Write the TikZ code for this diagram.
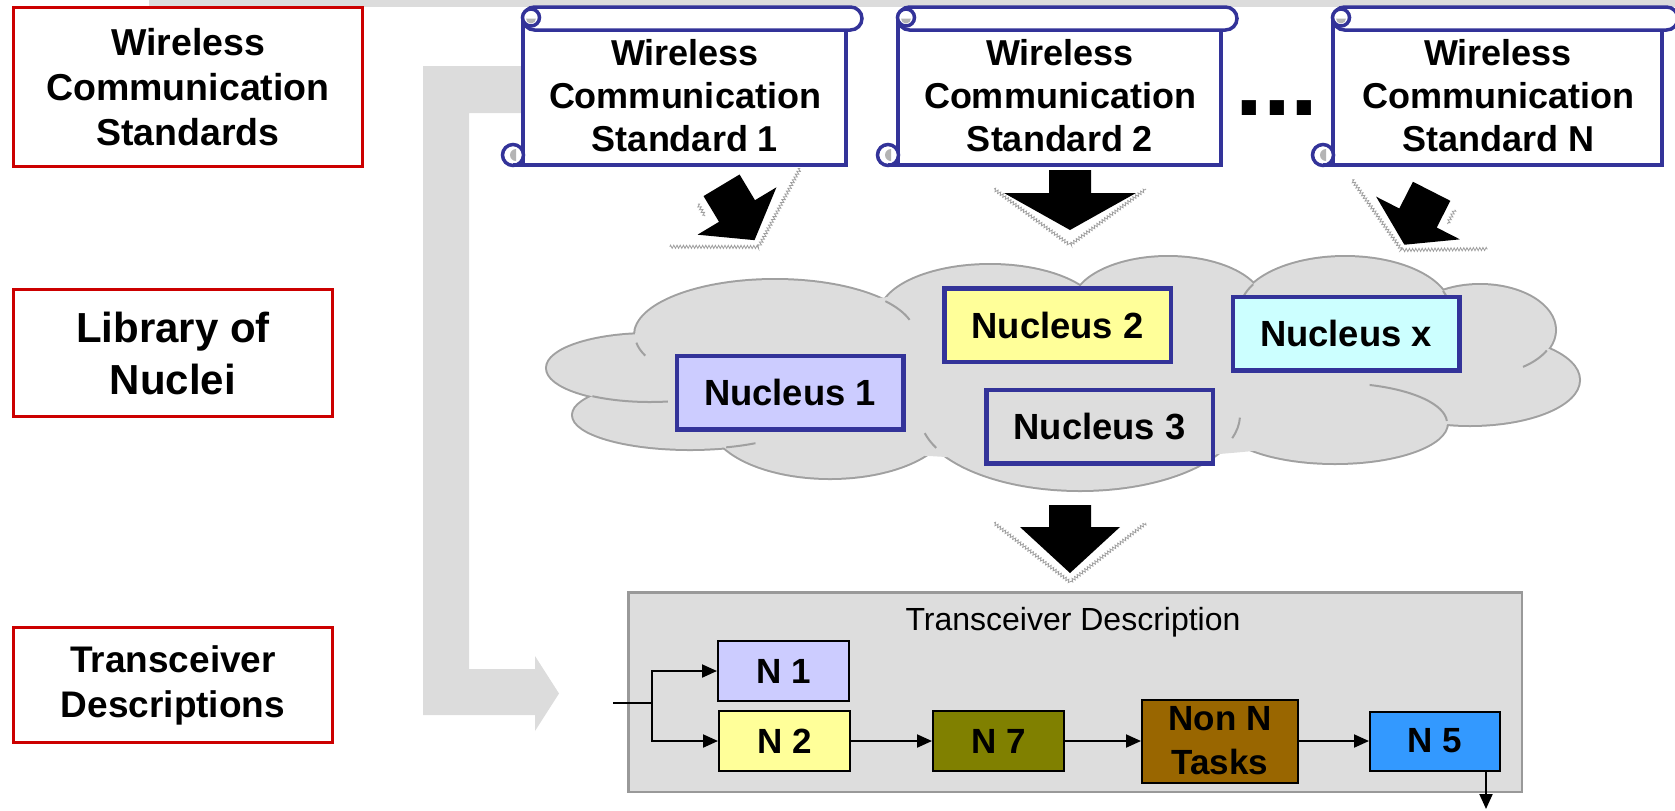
\documentclass[tikz,border=0pt]{standalone}
\usepackage{fontspec}
\setmainfont{Liberation Sans}
\usetikzlibrary{arrows.meta,decorations.pathmorphing}

\definecolor{redline}{HTML}{CC0000}
\definecolor{navy}{HTML}{333399}
\definecolor{bargray}{HTML}{DCDCDC}
\definecolor{cloudfill}{HTML}{DDDDDD}
\definecolor{cloudline}{HTML}{A0A0A0}
\definecolor{frameline}{HTML}{999999}
\definecolor{curlgray}{HTML}{B4B4B4}
\definecolor{nlav}{HTML}{CCCCFF}
\definecolor{nyel}{HTML}{FFFF99}
\definecolor{ncyan}{HTML}{CCFFFF}
\definecolor{nolive}{HTML}{808000}
\definecolor{nbrown}{HTML}{996600}
\definecolor{nblue}{HTML}{3399FF}

% scroll outline: #1 = left edge of the body, #2 = body width
\newcommand{\scrollframe}[2]{%
  \begin{scope}[shift={(#1,0)}]
    \filldraw[scrollstroke] (0,22) rectangle (#2,165);
    \filldraw[scrollstroke, rounded corners=5.75pt] (0,7) rectangle ({#2+16},30);
    \filldraw[scrollstroke] (8,17.5) circle[radius=8.5];
    \fill[curlgray] (3,18.5) arc[start angle=180, end angle=0, radius=5] -- cycle;
    \filldraw[scrollstroke] (-10,155) circle[radius=10.5];
    \fill[curlgray] (-7,149) arc[start angle=270, end angle=90, radius=6] -- cycle;
    \draw[scrollstroke] (-10,165) -- (6,165);
  \end{scope}}

% black block arrow with a sketched rim: #1,#2 centre of the head base,
% #3 rotation, #4 head half-width, #5 head length, #6 shaft length, #7 rim depth
\newcommand{\blockarrow}[7]{%
  \begin{scope}[shift={(#1,#2)}, rotate=#3]
    \fill[black] (-21,-#6) -- (21,-#6) -- (21,0) -- (#4,0) -- (0,#5)
      -- (-#4,0) -- (-21,0) -- cycle;
    \draw[sketchrim] (-76,-4) -- (0,#7) -- (76,-4);
  \end{scope}}

% a fold of the cloud: piece of the puff ellipse centred at (#1,#2) with
% radii #3, #4, running from angle #5 to angle #6
\newcommand{\cloudfoldarc}[6]{%
  \draw[cloudfold] (#1,#2) ++(#5:#3 and #4)
    arc[start angle=#5, end angle=#6, x radius=#3, y radius=#4];}

\begin{document}
\begin{tikzpicture}[x=0.5pt, y=-0.5pt,
  rowlabel/.style={draw=redline, line width=1.6pt, fill=white, align=center, inner sep=0pt},
  scrollstroke/.style={draw=navy, line width=1.75pt, fill=white},
  scrolltext/.style={align=center, inner sep=0pt, font=\fontsize{18}{21.5}\selectfont\bfseries},
  sketchrim/.style={draw=gray!75, line width=0.4pt, decorate,
    decoration={zigzag, segment length=1.6pt, amplitude=0.8pt}},
  cloudfold/.style={draw=cloudline, line width=1pt},
  nucbox/.style={draw=navy, line width=2.25pt, minimum width=113.25pt, minimum height=36.75pt,
    inner sep=0pt, font=\fontsize{18.2}{21}\selectfont\bfseries},
  taskbox/.style={draw=black, line width=1pt, inner sep=0pt, align=center,
    minimum height=30pt, minimum width=65.5pt, font=\fontsize{17.5}{22}\selectfont\bfseries},
  flowline/.style={line width=1pt, -{Triangle[length=7.5pt,width=6.5pt]}},
]
\useasboundingbox (0,0) rectangle (1675,810);

% light strip along the top edge
\fill[bargray] (149,0) rectangle (1675,7);

% bent grey arrow from the standards down to the transceiver description
\fill[bargray] (545,66) -- (423,66) -- (423,715) -- (535,715) -- (535,731)
  -- (559,693.5) -- (535,656) -- (535,669) -- (469,669) -- (469,113)
  -- (545,113) -- cycle;

% row labels
\node[rowlabel, minimum width=174.4pt, minimum height=79.4pt,
  font=\fontsize{18.75}{22.5}\selectfont\bfseries] (lstd) at (188,87)
  {Wireless\\Communication\\Standards};
\node[rowlabel, minimum width=159.4pt, minimum height=63.4pt,
  font=\fontsize{21}{26}\selectfont\bfseries] (llib) at (173,353)
  {Library of\\Nuclei};
\node[rowlabel, minimum width=159.4pt, minimum height=57.4pt,
  font=\fontsize{18.5}{22.5}\selectfont\bfseries] (ltrx) at (173,685)
  {Transceiver\\Descriptions};

% the standards, drawn as scrolls
\scrollframe{523}{323}
\scrollframe{898}{323}
\scrollframe{1333}{329}
\node[scrolltext] (s1) at (685,96) {Wireless\\Communication\\Standard 1};
\node[scrolltext] (s2) at (1060,96) {Wireless\\Communication\\Standard 2};
\node[scrolltext] (sN) at (1498,96) {Wireless\\Communication\\Standard N};
\node[inner sep=0pt, anchor=base, font=\fontsize{50}{50}\selectfont\bfseries] (dots) at (1277,115) {...};

% block arrows from the standards into the library
\blockarrow{737}{211}{31}{46}{34}{30}{42}
\blockarrow{1070}{193}{0}{66}{37}{23}{52}
\blockarrow{1418}{218}{-27}{47}{30}{30}{36}
\begin{scope}[shift={(737,211)}, rotate=31]
  \draw[sketchrim] (-30,-26) -- (-30,-12);
\end{scope}
\begin{scope}[shift={(1418,218)}, rotate=-27]
  \draw[sketchrim] (29,-24) -- (29,-8);
\end{scope}

% cloud holding the library of nuclei
\foreach \cx/\cy/\rx/\ry in {650/368/103/34, 690/415/117/34, 775/335/140/55,
    990/315/110/50, 1168/305/95/48, 1345/310/105/53, 1480/330/75/45,
    1470/380/109/45, 1335/423/112/40, 1080/415/160/75, 830/420/120/58}
  \draw[cloudline, line width=2pt] (\cx,\cy) ellipse[x radius=\rx, y radius=\ry];
\foreach \cx/\cy/\rx/\ry in {650/368/103/34, 690/415/117/34, 775/335/140/55,
    990/315/110/50, 1168/305/95/48, 1345/310/105/53, 1480/330/75/45,
    1470/380/109/45, 1335/423/112/40, 1080/415/160/75, 830/420/120/58}
  \fill[cloudfill] (\cx,\cy) ellipse[x radius=\rx, y radius=\ry];
\fill[cloudfill] (1060,375) ellipse[x radius=430, y radius=85];
% folds where the puffs overlap
\cloudfoldarc{775}{335}{140}{55}{172}{158}
\cloudfoldarc{775}{335}{140}{55}{-38}{-16}
\cloudfoldarc{650}{368}{103}{34}{124}{80}
\cloudfoldarc{690}{415}{117}{34}{72}{56}
\cloudfoldarc{1080}{415}{160}{75}{154}{166}
\cloudfoldarc{1345}{310}{105}{53}{-151}{-165}
\cloudfoldarc{1345}{310}{105}{53}{-21}{-5}
\cloudfoldarc{1480}{330}{75}{45}{27}{55}
\cloudfoldarc{1335}{423}{112}{40}{-3}{-72}
\cloudfoldarc{1080}{415}{160}{75}{18}{2}

\node[nucbox, fill=nlav] (nu1) at (790,392.5) {Nucleus 1};
\node[nucbox, fill=nyel] (nu2) at (1057.5,325) {Nucleus 2};
\node[nucbox, fill=ncyan] (nux) at (1346,333.5) {Nucleus x};
\node[nucbox, fill=cloudfill] (nu3) at (1099.5,426.5) {Nucleus 3};

% block arrow from the library to the description
\blockarrow{1070}{527}{0}{50}{46}{22}{55}

% transceiver description
\node[draw=frameline, line width=1.25pt, fill=cloudfill, minimum width=446.75pt,
  minimum height=99.75pt, inner sep=0pt] (tframe) at (1075,692) {};
\node[font=\fontsize{16}{19}\selectfont, inner sep=0pt] (ttitle) at (1073,622) {Transceiver Description};

\node[taskbox, fill=nlav] (t1) at (783.5,671) {N 1};
\node[taskbox, fill=nyel] (t2) at (784.5,741) {N 2};
\node[taskbox, fill=nolive] (t7) at (998.5,741) {N 7};
\node[taskbox, fill=nbrown, minimum width=78pt, minimum height=41.5pt] (tnon) at (1220,741) {Non N\\Tasks};
\node[taskbox, fill=nblue, minimum width=65pt, minimum height=29.5pt] (t5) at (1435,741) {N 5};

\coordinate (inp) at (613,703);
\coordinate (fork) at (652,703);
\coordinate (outend) at (1486,809);
\draw[line width=1pt] (inp) -- (fork);
\draw[flowline] (fork) |- (t1.west);
\draw[flowline] (fork) |- (t2.west);
\draw[flowline] (t2) -- (t7);
\draw[flowline] (t7) -- (tnon);
\draw[flowline] (tnon) -- (t5);
\draw[flowline] (t5.south -| outend) -- (outend);
\end{tikzpicture}
\end{document}
